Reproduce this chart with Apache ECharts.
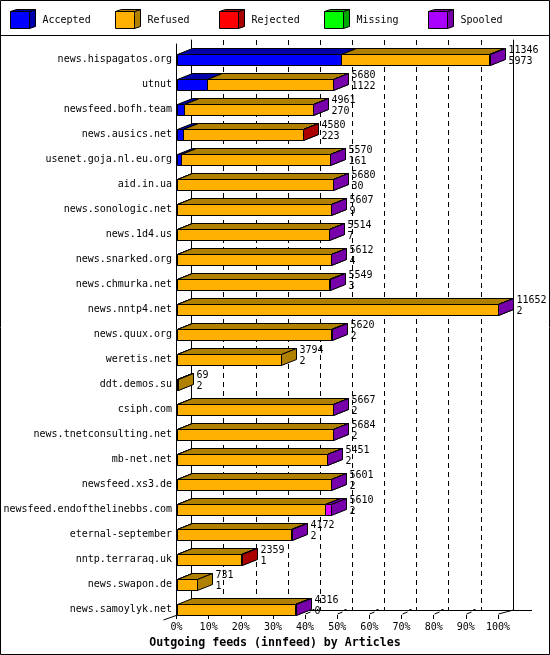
<!DOCTYPE html>
<html><head><meta charset="utf-8">
<script src="https://cdn.jsdelivr.net/npm/echarts@6/dist/echarts.min.js"></script>
<style>html,body{margin:0;padding:0;background:#fff}#c{width:550px;height:655px}</style>
</head><body><div id="c"></div>
<script>
const categories = ['news.hispagatos.org','utnut','newsfeed.bofh.team','news.ausics.net','usenet.goja.nl.eu.org','aid.in.ua','news.sonologic.net','news.1d4.us','news.snarked.org','news.chmurka.net','news.nntp4.net','news.quux.org','weretis.net','ddt.demos.su','csiph.com','news.tnetconsulting.net','mb-net.net','newsfeed.xs3.de','newsfeed.endofthelinebbs.com','eternal-september','nntp.terraraq.uk','news.swapon.de','news.samoylyk.net'];
const totals   = [11346,5680,4961,4580,5570,5680,5607,5514,5612,5549,11652,5620,3794,69,5667,5684,5451,5601,5610,4172,2359,731,4316];
const accepted = [5973,1122,270,223,161,30,9,7,4,3,2,2,2,2,2,2,2,2,2,2,1,1,0];
const refused  = [5368,4553,4686,4347,5404,5645,5593,5502,5603,5541,11645,5613,3792,67,5660,5677,5444,5594,5390,4165,2348,730,4311];
const rejected = [0,0,0,10,0,0,0,0,0,0,0,0,0,0,0,0,0,0,0,0,10,0,0];
const missing  = [0,0,0,0,0,0,0,0,0,0,0,0,0,0,0,0,0,0,0,0,0,0,0];
const spooled  = [5,5,5,0,5,5,5,5,5,5,5,5,0,0,5,5,5,5,218,5,0,0,5];
const seriesNames = ['Accepted','Refused','Rejected','Missing','Spooled'];
const tickValues = [0,10,20,30,40,50,60,70,80,90,100];
const titleText = 'Outgoing feeds (innfeed) by Articles';

const FRONT = ['#0000FF','#FFB000','#FF0000','#00FF00','#DD00FF'];
const DARK  = ['#0000AA','#B08000','#AA0000','#00AA00','#7700AA'];
const LEGF  = ['#0000FF','#FFB000','#FF0000','#00FF00','#AA00FF'];
const FONT = '10px "DejaVu Sans Mono", monospace';
const MAXV = Math.max.apply(null, totals);

const chart = echarts.init(document.getElementById('c'), null, {renderer:'canvas'});

function renderBar(params, api) {
  const idx = api.value(0);
  const cy = api.coord([0, idx])[1];
  const yt = Math.round(cy - 5) + 0.5;
  const yb = yt + 11;
  const DX = 15, DY = 6;
  const ch = [];
  let cum = 0;
  let xe = Math.round(api.coord([0, idx])[0]) + 0.5;
  for (let s = 0; s < 5; s++) {
    const v = api.value(1 + s);
    if (!(v > 0)) continue;
    const xa = Math.round(api.coord([cum, idx])[0]) + 0.5;
    cum += v;
    const xb = Math.round(api.coord([cum, idx])[0]) + 0.5;
    xe = xb;
    ch.push({type:'polygon', shape:{points:[[xa,yt],[xb,yt],[xb,yb],[xa,yb]]}, style:{fill:FRONT[s], stroke:'#000', lineWidth:1}});
    ch.push({type:'polygon', shape:{points:[[xa,yt],[xa+DX,yt-DY],[xb+DX,yt-DY],[xb,yt]]}, style:{fill:DARK[s], stroke:'#000', lineWidth:1}});
    ch.push({type:'polygon', shape:{points:[[xb,yt],[xb+DX,yt-DY],[xb+DX,yb-DY],[xb,yb]]}, style:{fill:DARK[s], stroke:'#000', lineWidth:1}});
  }
  const tx = xe + DX + 3;
  ch.push({type:'text', style:{text:String(api.value(6)), x:tx, y:Math.round(cy-9), font:FONT, fill:'#000', align:'left', verticalAlign:'middle'}});
  ch.push({type:'text', style:{text:String(api.value(1)), x:tx, y:Math.round(cy+2), font:FONT, fill:'#000', align:'left', verticalAlign:'middle'}});
  return {type:'group', children:ch};
}

function renderFloorTick(params, api) {
  const v = api.value(0);
  const p = api.coord([v, 0]);
  const x = Math.round(p[0]) + 0.5;
  const y = Math.round(p[1]);
  const st = {stroke:'#000', lineWidth:1};
  if (v === 0) {
    return {type:'line', shape:{x1:x, y1:y, x2:x-14, y2:y+5}, style:st};
  }
  if (v === 100) {
    return {type:'line', shape:{x1:x, y1:y-1, x2:x+15, y2:y-5}, style:st};
  }
  return {type:'group', children:[
    {type:'line', shape:{x1:x, y1:y-1, x2:x+5, y2:y-3}, style:st},
    {type:'rect', shape:{x:x+7, y:y-6, width:2, height:2}, style:{fill:'#000'}}
  ]};
}

const legendGraphics = [];
seriesNames.forEach((n, i) => {
  const x0 = Math.round(10 + i * 104.5) + 0.5;
  const y0 = 11.5, w = 19, h = 17, d = 6, dy = 2;
  legendGraphics.push({type:'polygon', shape:{points:[[x0,y0],[x0+w,y0],[x0+w,y0+h],[x0,y0+h]]}, style:{fill:LEGF[i], stroke:'#000', lineWidth:1}});
  legendGraphics.push({type:'polygon', shape:{points:[[x0+w,y0],[x0+w+d,y0-dy],[x0+w+d,y0+h-dy],[x0+w,y0+h]]}, style:{fill:DARK[i], stroke:'#000', lineWidth:1}});
  legendGraphics.push({type:'polygon', shape:{points:[[x0,y0],[x0+d,y0-dy],[x0+w+d,y0-dy],[x0+w,y0]]}, style:{fill:DARK[i], stroke:'#000', lineWidth:1}});
  legendGraphics.push({type:'text', style:{text:n, x:x0+32, y:20, font:FONT, fill:'#000', verticalAlign:'middle'}});
});

const option = {
  backgroundColor:'#fff',
  animation:false,
  title:{text:titleText, left:'center', top:632, textStyle:{fontFamily:'"DejaVu Sans Mono", monospace', fontWeight:'bold', fontSize:11.6, color:'#000'}},
  grid:[
    {left:176.5, top:46.5, width:321.5, height:575},
    {left:191.5, top:40, width:321.5, height:570},
    {left:176.5, top:44, width:321.5, height:571}
  ],
  xAxis:[
    {gridIndex:0, type:'value', min:0, max:MAXV, show:false},
    {gridIndex:1, type:'value', min:0, max:100, interval:10,
      axisLine:{show:true, lineStyle:{color:'#000', width:1}}, axisTick:{show:false}, axisLabel:{show:false},
      splitLine:{show:true, lineStyle:{color:'#000', width:1, type:[5,4]}}},
    {gridIndex:2, type:'value', min:0, max:100, interval:10,
      axisLine:{show:false}, axisTick:{show:true, length:4, lineStyle:{color:'#000'}},
      axisLabel:{show:true, margin:7, formatter:(v)=>v+'%', fontFamily:'"DejaVu Sans Mono", monospace', fontSize:10, color:'#000'},
      splitLine:{show:false}}
  ],
  yAxis:[
    {gridIndex:0, type:'category', data:categories, inverse:true,
      axisLine:{show:false}, axisTick:{show:false},
      axisLabel:{margin:4.5, interval:0, fontFamily:'"DejaVu Sans Mono", monospace', fontSize:10, color:'#000'}},
    {gridIndex:1, type:'value', min:0, max:1, axisLine:{show:true, lineStyle:{color:'#000'}}, axisTick:{show:false}, axisLabel:{show:false}, splitLine:{show:false}},
    {gridIndex:1, type:'value', min:0, max:1, position:'right', axisLine:{show:true, lineStyle:{color:'#000'}}, axisTick:{show:false}, axisLabel:{show:false}, splitLine:{show:false}},
    {gridIndex:2, type:'value', min:0, max:1, axisLine:{show:true, lineStyle:{color:'#000'}}, axisTick:{show:false}, axisLabel:{show:false}, splitLine:{show:false}}
  ],
  series:[
    {type:'custom', name:'floor', xAxisIndex:2, yAxisIndex:3, z:1, silent:true, clip:false,
      renderItem:renderFloorTick, data:tickValues.map(v=>[v,0]), encode:{x:0, y:1}},
    {type:'custom', name:'bars', xAxisIndex:0, yAxisIndex:0, z:5, silent:true, clip:false,
      renderItem:renderBar,
      data:categories.map((c,i)=>[i, accepted[i], refused[i], rejected[i], missing[i], spooled[i], totals[i]]),
      encode:{x:6, y:0}}
  ],
  graphic:[]
};
chart.setOption(option);

const pEnd = chart.convertToPixel({xAxisIndex:1, yAxisIndex:1}, [100, 0]);
const fy = Math.round(pEnd[1]) + 0.5;
const g = [
  {type:'rect', shape:{x:0.5, y:0.5, width:549, height:654}, style:{fill:null, stroke:'#000', lineWidth:1}, z:100},
  {type:'line', shape:{x1:0, y1:35.5, x2:550, y2:35.5}, style:{stroke:'#000', lineWidth:1}, z:100},
  {type:'line', shape:{x1:Math.round(pEnd[0]), y1:fy, x2:Math.round(pEnd[0])+19, y2:fy}, style:{stroke:'#000', lineWidth:1}, z:100}
].concat(legendGraphics.map(e => Object.assign({z:100}, e)));
chart.setOption({graphic:g});
</script></body></html>
